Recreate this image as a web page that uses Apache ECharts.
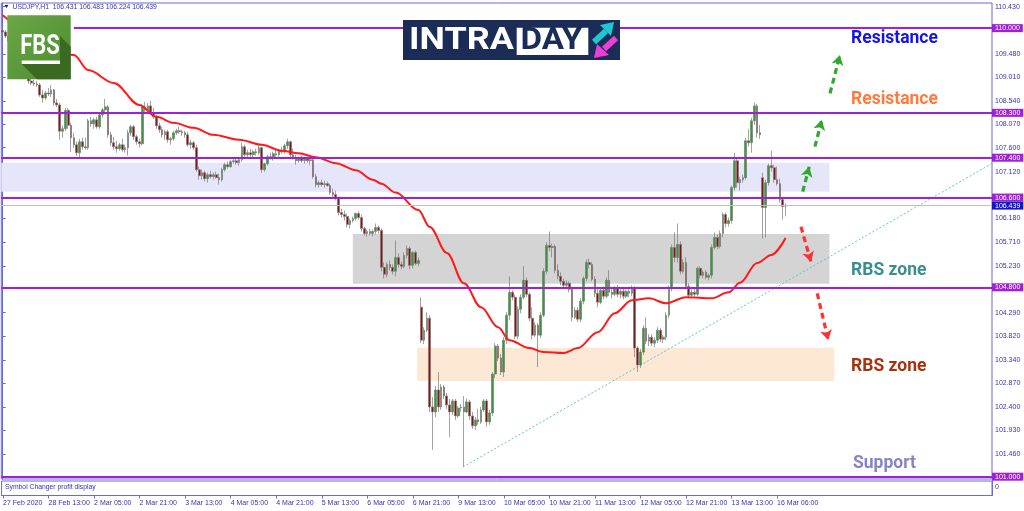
<!DOCTYPE html>
<html><head><meta charset="utf-8">
<script src="https://cdn.jsdelivr.net/npm/echarts@6/dist/echarts.min.js"></script>
<style>html,body{margin:0;padding:0;background:#fff}#c{width:1024px;height:511px}</style>
</head><body><div id="c"></div>
<script>
// ---------------- data ----------------
const symbolHeader = 'USDJPY,H1  106.431 106.483 106.224 106.439';
const xTickLabels = ['27 Feb 2020','28 Feb 13:00','2 Mar 05:00','2 Mar 21:00','3 Mar 13:00','4 Mar 05:00','4 Mar 21:00','5 Mar 13:00','6 Mar 05:00','6 Mar 21:00','9 Mar 13:00','10 Mar 05:00','10 Mar 21:00','11 Mar 13:00','12 Mar 05:00','12 Mar 21:00','13 Mar 13:00','16 Mar 06:00'];
const yTickValues = [110.43,109.48,109.01,108.54,108.07,107.60,107.12,106.18,105.71,105.23,104.29,103.82,103.34,102.87,102.40,101.93,101.46];
// hourly bars: [open, high, low, close]
const ohlc = [
[109.95,110.00,109.88,109.92],[109.92,109.96,109.80,109.84],[109.84,109.88,109.70,109.74],[109.74,109.80,109.62,109.66],
[109.66,109.70,109.50,109.55],[109.55,109.60,109.40,109.44],[109.44,109.50,109.30,109.36],[109.36,109.40,109.18,109.22],
[109.22,109.28,109.05,109.10],[109.10,109.12,108.88,108.94],[108.94,108.98,108.86,108.90],[108.90,108.96,108.84,108.88],
[108.88,108.94,108.82,108.86],[108.86,108.90,108.62,108.66],[108.66,108.76,108.50,108.60],[108.60,108.74,108.56,108.70],
[108.70,108.80,108.64,108.68],[108.68,108.86,108.62,108.76],[108.76,108.78,108.44,108.50],[108.50,108.58,108.42,108.46],
[108.46,108.50,107.76,107.93],[107.93,108.05,107.80,107.98],[107.98,108.40,107.94,108.35],[108.35,108.40,107.98,108.05],
[108.05,108.10,107.52,107.80],[107.80,107.90,107.60,107.66],[107.66,107.72,107.44,107.50],[107.50,107.78,107.38,107.72],
[107.72,107.80,107.56,107.62],[107.62,107.80,107.56,107.60],[107.60,108.18,107.56,108.14],[108.14,108.22,108.02,108.08],
[108.08,108.20,107.98,108.16],[108.16,108.22,107.98,108.02],[108.02,108.30,107.98,108.26],[108.26,108.40,108.20,108.36],
[108.36,108.58,108.30,108.42],[108.42,108.46,107.80,107.86],[107.86,107.92,107.64,107.70],[107.70,107.82,107.56,107.62],
[107.62,107.74,107.50,107.58],[107.58,107.70,107.54,107.66],[107.66,107.78,107.52,107.56],[107.56,107.66,107.50,107.60],
[107.60,107.96,107.44,107.90],[107.90,108.06,107.84,108.02],[108.02,108.06,107.76,107.82],[107.82,107.86,107.66,107.72],
[107.72,107.78,107.60,107.68],[107.68,108.48,107.64,108.42],[108.42,108.52,108.30,108.36],[108.36,108.50,108.28,108.44],
[108.44,108.54,108.26,108.30],[108.30,108.40,108.18,108.22],[108.22,108.26,107.98,108.04],[108.04,108.10,107.90,107.96],
[107.96,108.02,107.80,107.86],[107.86,107.96,107.76,107.92],[107.92,107.96,107.70,107.76],[107.76,107.82,107.66,107.78],
[107.78,107.94,107.74,107.90],[107.90,107.98,107.86,107.94],[107.94,108.02,107.88,107.92],[107.92,107.96,107.84,107.90],
[107.90,107.94,107.80,107.86],[107.86,107.92,107.62,107.66],[107.66,107.76,107.58,107.70],[107.70,107.74,107.56,107.60],
[107.60,107.66,107.12,107.16],[107.16,107.22,106.96,107.04],[107.04,107.16,106.96,107.10],[107.10,107.14,106.92,106.98],
[106.98,107.10,106.90,107.06],[107.06,107.14,106.98,107.02],[107.02,107.10,106.96,107.06],[107.06,107.12,106.98,107.00],
[107.00,107.08,106.86,106.96],[106.96,107.20,106.92,107.16],[107.16,107.30,107.12,107.26],[107.26,107.32,107.18,107.22],
[107.22,107.36,107.20,107.32],[107.32,107.40,107.28,107.34],[107.34,107.40,107.26,107.30],[107.30,107.40,107.24,107.36],
[107.36,107.70,107.32,107.62],[107.62,107.66,107.40,107.46],[107.46,107.56,107.40,107.50],[107.50,107.58,107.42,107.46],
[107.46,107.56,107.40,107.52],[107.52,107.58,107.44,107.50],[107.50,107.64,107.46,107.60],[107.60,107.62,107.10,107.16],
[107.16,107.30,107.12,107.28],[107.28,107.46,107.24,107.42],[107.42,107.50,107.36,107.40],[107.40,107.52,107.34,107.48],
[107.48,107.56,107.42,107.46],[107.46,107.58,107.40,107.54],[107.54,107.62,107.48,107.52],[107.52,107.68,107.48,107.64],
[107.64,107.78,107.58,107.72],[107.72,107.74,107.40,107.46],[107.46,107.58,107.36,107.40],[107.40,107.46,107.26,107.34],
[107.34,107.42,107.30,107.38],[107.38,107.44,107.30,107.34],[107.34,107.42,107.28,107.38],[107.38,107.42,107.30,107.34],
[107.34,107.40,107.26,107.36],[107.36,107.40,106.98,107.02],[107.02,107.08,106.80,106.86],[106.86,106.94,106.80,106.90],
[106.90,106.96,106.82,106.86],[106.86,106.94,106.80,106.88],[106.88,106.92,106.82,106.84],[106.84,106.88,106.66,106.70],
[106.70,106.78,106.60,106.66],[106.66,106.74,106.54,106.58],[106.58,106.62,106.24,106.30],[106.30,106.38,106.20,106.26],
[106.26,106.34,106.14,106.22],[106.22,106.28,106.00,106.06],[106.06,106.18,105.98,106.14],[106.14,106.22,106.10,106.18],
[106.18,106.30,106.14,106.28],[106.28,106.32,106.16,106.20],[106.20,106.26,105.92,105.98],[105.98,106.02,105.84,105.88],
[105.88,105.96,105.82,105.92],[105.92,105.98,105.84,105.88],[105.88,105.96,105.82,105.92],[105.92,106.08,105.86,106.00],
[106.00,106.04,105.88,105.94],[105.94,105.98,105.12,105.20],[105.20,105.30,104.98,105.06],[105.06,105.30,105.00,105.26],
[105.26,105.34,105.14,105.20],[105.20,105.26,105.06,105.12],[105.12,105.74,105.02,105.40],[105.40,105.48,105.20,105.26],
[105.26,105.32,105.16,105.22],[105.22,105.50,105.18,105.44],[105.44,105.64,105.38,105.58],[105.58,105.62,105.16,105.24],
[105.24,105.52,105.18,105.50],[105.50,105.54,105.24,105.28],[105.28,105.40,105.22,105.34],
[104.40,104.60,103.68,103.74],[103.74,104.00,103.66,103.94],[103.94,104.30,103.90,104.18],[104.18,104.24,102.30,102.40],
[102.40,102.60,101.54,102.30],[102.30,102.82,102.20,102.74],[102.74,103.10,102.30,102.40],[102.40,102.86,102.34,102.80],
[102.80,102.84,102.56,102.62],[102.62,102.68,102.36,102.44],[102.44,102.56,101.80,102.30],[102.30,102.56,102.24,102.52],
[102.52,102.56,102.14,102.22],[102.22,102.42,102.18,102.38],[102.38,102.46,102.30,102.40],[102.40,102.62,101.20,102.30],
[102.30,102.56,102.28,102.50],[102.50,102.54,102.14,102.22],[102.22,102.30,101.96,102.02],[102.02,102.20,101.94,102.14],
[102.14,102.36,102.04,102.10],[102.10,102.40,102.06,102.34],[102.34,102.56,102.30,102.52],[102.52,102.56,102.00,102.10],
[102.10,102.34,102.04,102.28],[102.28,103.10,102.22,103.06],[103.06,103.68,102.98,103.62],[103.62,103.66,103.32,103.38],
[103.38,103.46,103.04,103.10],[103.10,103.80,103.00,103.74],[103.74,104.30,103.66,104.24],[104.24,105.02,104.14,104.70],
[104.70,104.74,104.54,104.60],[104.60,104.66,103.76,103.82],[103.82,104.42,103.76,104.36],[104.36,104.66,104.28,104.60],
[104.60,105.22,104.56,104.94],[104.94,105.00,104.60,104.66],[104.66,104.70,104.12,104.18],[104.18,104.40,103.76,103.84],
[103.84,104.10,103.80,104.04],[104.04,104.08,103.20,103.84],[103.84,104.30,103.78,104.24],[104.24,105.18,104.20,105.12],
[105.12,105.70,105.06,105.64],[105.64,105.92,105.52,105.60],[105.60,105.68,105.40,105.62],[105.62,105.66,105.08,105.14],
[105.14,105.26,104.96,105.02],[105.02,105.10,104.84,104.92],[104.92,104.98,104.78,104.84],[104.84,104.94,104.76,104.88],
[104.88,104.92,104.70,104.76],[104.76,104.80,104.12,104.20],[104.20,104.40,104.16,104.34],[104.34,104.40,104.10,104.16],
[104.16,104.58,104.10,104.52],[104.52,105.02,104.46,104.98],[104.98,105.36,104.92,105.30],[105.30,105.38,105.18,105.26],
[105.26,105.30,104.92,104.96],[104.96,105.02,104.60,104.68],[104.68,104.80,104.40,104.50],[104.50,104.80,104.46,104.74],
[104.74,104.82,104.56,104.62],[104.62,105.00,104.58,104.94],[104.94,105.14,104.62,104.70],[104.70,104.80,104.58,104.66],
[104.66,104.82,104.62,104.78],[104.78,104.84,104.60,104.66],[104.66,104.76,104.58,104.72],[104.72,104.78,104.56,104.62],
[104.62,104.76,104.58,104.72],[104.72,104.80,104.60,104.68],[104.68,104.84,104.62,104.78],[104.78,104.82,103.40,103.58],
[103.58,103.62,103.10,103.24],[103.24,103.56,103.18,103.50],[103.50,104.04,103.44,103.98],[103.98,104.20,103.66,103.72],
[103.72,103.86,103.62,103.80],[103.80,103.86,103.62,103.68],[103.68,103.80,103.60,103.74],[103.74,104.00,103.68,103.94],
[103.94,103.98,103.70,103.76],[103.76,103.84,103.68,103.80],[103.80,104.30,103.74,104.24],[104.24,104.84,104.18,104.80],
[104.80,105.66,104.72,105.60],[105.60,105.90,105.30,105.40],[105.40,106.08,105.30,105.66],[105.66,105.72,105.06,105.12],
[105.12,105.36,105.08,105.30],[105.30,105.40,104.76,104.82],[104.82,104.88,104.58,104.64],[104.64,104.76,104.58,104.70],
[104.70,104.80,104.60,104.66],[104.66,105.22,104.62,105.18],[105.18,105.22,104.98,105.04],[105.04,105.14,104.98,105.10],
[105.10,105.14,104.96,105.00],[105.00,105.08,104.94,105.04],[105.04,105.66,104.98,105.60],[105.60,105.90,105.56,105.80],
[105.80,105.86,105.56,105.62],[105.62,105.94,105.58,105.88],[105.88,106.30,105.80,106.26],[106.26,106.30,106.00,106.08],
[106.08,106.20,106.02,106.14],[106.14,106.84,106.08,106.80],[106.80,107.50,106.74,107.34],[107.34,107.40,106.80,106.90],
[106.90,107.02,106.74,106.96],[106.96,107.06,106.90,107.00],[107.00,107.80,106.96,107.74],[107.74,107.98,107.62,107.70],
[107.70,108.20,107.50,108.14],[108.14,108.50,108.06,108.44],[108.44,108.48,107.80,107.90],[107.90,108.06,107.78,107.86],
[107.00,107.10,105.78,106.40],[106.40,106.96,105.80,106.90],[106.90,107.28,106.84,107.24],[107.24,107.54,107.12,107.20],
[107.20,107.26,106.90,106.96],[106.96,107.22,106.84,106.88],[106.88,106.98,106.50,106.56],[106.56,106.60,106.16,106.42],
[106.431,106.483,106.224,106.439]
];
// moving average: [bar index, value]
const maPoints = [[0,110.26],[25,109.46],[30,109.16],[39,108.90],[48,108.46],[54,108.22],[60,108.10],[67,108.00],[74,107.86],
[83,107.76],[91,107.66],[98,107.54],[104,107.49],[110,107.41],[117,107.29],[124,107.15],[130,106.96],[133,106.88],[138,106.70],
[146,106.35],[150,106.01],[156,105.49],[162,104.88],[168,104.40],[174,104.00],[178,103.74],[185,103.58],[190,103.50],[197,103.48],
[202,103.58],[209,103.90],[215,104.28],[221,104.54],[227,104.58],[233,104.48],[240,104.60],[249,104.58],[255,104.70],[259,104.89],
[265,105.29],[270,105.45],[275,105.79]];
const levels = [110.0, 108.3, 107.4, 106.6, 104.8, 101.0];
const currentPrice = 106.439;
const lavenderZone = [107.30, 106.718];
const grayZone = [105.87, 104.872];
const peachZone = [103.588, 102.92];
const trendline = [[161.7, 101.195], [347.5, 107.284]];
const greenArrows = [[[281.0,106.718],[283.3,107.219]],[[285.3,107.621],[287.7,108.156]],[[290.6,108.692],[294.1,109.461]]];
const redArrows = [[[280.4,106.015],[283.9,105.313]],[[286.1,104.679],[290.0,103.742]]];
const totalSlots = 348;

// ---------------- chart ----------------
const categories = Array.from({length: totalSlots}, (_, i) => String(i));
const frame = '#6a6ad8';
const axisText = '#3434b4';
const purple = '#a020d8';
const chart = echarts.init(document.getElementById('c'), null, {renderer: 'canvas'});

const levelLines = levels.map((v, k) => [
  {coord: [k === 0 ? 25 : -0.5, v], lineStyle: {color: purple, width: 2, type: 'solid'},
   label: {show: true, position: 'end', distance: 0, formatter: v.toFixed(3), backgroundColor: purple,
           color: '#fff', fontSize: 7, fontFamily: 'Liberation Sans', padding: [1, 3, 0, 3]}},
  {coord: [347.5, v]}
]);
levelLines.push([
  {coord: [-0.5, currentPrice], lineStyle: {color: '#c0c0c0', width: 1, type: 'solid'},
   label: {show: true, position: 'end', distance: 0, formatter: currentPrice.toFixed(3), backgroundColor: '#1414c8',
           color: '#fff', fontSize: 7, fontFamily: 'Liberation Sans', padding: [1, 3, 0, 3]}},
  {coord: [347.5, currentPrice]}
]);

const arrowLine = (pair, color) => [
  {coord: pair[0], lineStyle: {color: color, width: 3.2, type: [6, 4]}},
  {coord: pair[1]}
];

const Z = 100;
const option = {
  animation: false,
  backgroundColor: '#fff',
  grid: [
    {left: 1.3, right: 32, top: 3, bottom: 32, show: true, borderColor: frame, borderWidth: 1, backgroundColor: '#fff'},
    {left: 1.3, right: 32, top: 481, bottom: 15.5, show: true, borderColor: frame, borderWidth: 1}
  ],
  xAxis: [
    {type: 'category', gridIndex: 0, data: categories, boundaryGap: true, show: false},
    {type: 'value', gridIndex: 0, min: -0.5, max: totalSlots - 0.5, show: false},
    {type: 'category', gridIndex: 1, data: categories, boundaryGap: true,
     axisLine: {show: true, lineStyle: {color: frame}},
     axisTick: {show: true, alignWithLabel: true, length: 3, lineStyle: {color: frame},
                interval: (i) => i % 16 === 0 && i / 16 < xTickLabels.length},
     axisLabel: {show: true, align: 'left', margin: 4, color: axisText, fontSize: 7, fontFamily: 'Liberation Sans',
                 interval: (i) => i % 16 === 0 && i / 16 < xTickLabels.length,
                 formatter: (v, i) => xTickLabels[i / 16] || ''},
     splitLine: {show: false}}
  ],
  yAxis: [
    {type: 'value', gridIndex: 0, position: 'right', min: 100.954, max: 110.504,
     axisLine: {show: true, lineStyle: {color: frame}},
     axisTick: {show: true, length: 3, customValues: yTickValues, lineStyle: {color: frame}},
     axisLabel: {show: true, customValues: yTickValues, formatter: (v) => v.toFixed(3), color: axisText,
                 fontSize: 7, fontFamily: 'Liberation Sans', margin: 3},
     splitLine: {show: false}},
    {type: 'value', gridIndex: 1, position: 'right', min: 0, max: 1,
     axisLine: {show: true, lineStyle: {color: frame}},
     axisTick: {show: false},
     axisLabel: {show: true, customValues: [1, 0.55], formatter: () => '0', color: axisText, fontSize: 7,
                 fontFamily: 'Liberation Sans', margin: 3},
     splitLine: {show: false}}
  ],
  series: [
    {type: 'line', name: 'zones', xAxisIndex: 1, yAxisIndex: 0, data: [], silent: true, z: 1, clip: false,
     markArea: {silent: true, data: [
       [{coord: [-0.5, lavenderZone[0]], itemStyle: {color: '#e6e6fa'}}, {coord: [290.4, lavenderZone[1]]}],
       [{coord: [123.0, grayZone[0]], itemStyle: {color: '#d4d4d4'}}, {coord: [290.4, grayZone[1]]}],
       [{coord: [145.6, peachZone[0]], itemStyle: {color: '#fde8d6'}}, {coord: [292.1, peachZone[1]]}]
     ]}},
    {type: 'line', name: 'levels', xAxisIndex: 1, yAxisIndex: 0, data: [], silent: true, z: 2, clip: false,
     markLine: {silent: true, symbol: ['none', 'none'], animation: false, data: levelLines}},
    {type: 'line', name: 'trend', xAxisIndex: 1, yAxisIndex: 0, data: trendline, symbol: 'none', silent: true, z: 2,
     lineStyle: {color: '#5ec8c8', width: 1, type: [2, 2]}},
    {type: 'candlestick', name: 'USDJPY', xAxisIndex: 0, yAxisIndex: 0, z: 3, barWidth: 2.2,
     data: ohlc.map(r => [r[0], r[3], r[2], r[1]]),
     itemStyle: {color: '#2fa02f', color0: '#8c1010', borderColor: '#7a7a7a', borderColor0: '#7a7a7a', borderWidth: 0.7}},
    {type: 'line', name: 'MA', xAxisIndex: 1, yAxisIndex: 0, data: maPoints, symbol: 'none', smooth: 0.35,
     smoothMonotone: 'x', z: 4, lineStyle: {color: '#ff1a1a', width: 2}},
    {type: 'line', name: 'arrows', xAxisIndex: 1, yAxisIndex: 0, data: [], silent: true, z: 5, clip: false,
     markLine: {silent: true, symbol: ['none', 'arrow'], symbolSize: [9, 10], label: {show: false}, animation: false,
       data: greenArrows.map(p => arrowLine(p, '#2ea82e')).concat(redArrows.map(p => arrowLine(p, '#ff3030')))}}
  ],
  graphic: {
    elements: [
    // header
    {type: 'polygon', z: Z, shape: {points: [[4.5, 5], [8.5, 5], [6.5, 8]]}, style: {fill: '#1e1e90'}},
    {type: 'text', z: Z, x: 12.5, y: 7.5, style: {text: symbolHeader, fill: axisText, font: '6.8px "Liberation Sans"', textVerticalAlign: 'middle'}},
    {type: 'text', z: Z, x: 5, y: 487.5, style: {text: 'Symbol Changer profit display', fill: axisText, font: '6.8px "Liberation Sans"', textVerticalAlign: 'middle'}},
    // FBS logo
    {type: 'rect', z: Z, shape: {x: 7.3, y: 15.3, width: 63.4, height: 64},
     style: {fill: new echarts.graphic.LinearGradient(0, 0, 1, 1, [{offset: 0, color: '#6aa847'}, {offset: 1, color: '#4d8a2e'}])}},
    {type: 'polygon', z: Z + 1, shape: {points: [[60, 36], [70.7, 46.7], [70.7, 79.3], [37, 79.3], [21.7, 64], [60, 64]]}, style: {fill: '#3a6a20'}},
    {type: 'text', z: Z + 2, x: 20.3, y: 46.5, scaleX: 0.78, style: {text: 'FBS', fill: '#fff', font: 'bold 28px Roboto', textVerticalAlign: 'middle'}},
    {type: 'rect', z: Z + 2, shape: {x: 21.7, y: 60.5, width: 38.3, height: 3.5}, style: {fill: '#fff'}},
    // INTRADAY logo
    {type: 'rect', z: Z, shape: {x: 403, y: 20, width: 217, height: 40}, style: {fill: '#1b2d57'}},
    {type: 'rect', z: Z + 1, shape: {x: 516.7, y: 27.7, width: 71.6, height: 27.3}, style: {fill: '#fff'}},
    {type: 'text', z: Z + 2, x: 409, y: 41.5, scaleX: 1.16, style: {text: 'INTRA', fill: '#fff', font: 'bold 31px Roboto', textVerticalAlign: 'middle'}},
    {type: 'text', z: Z + 2, x: 520.5, y: 41.5, scaleX: 1.07, style: {text: 'DAY', fill: '#1b2d57', font: 'bold 31px Roboto', textVerticalAlign: 'middle'}},
    {type: 'line', z: Z + 2, shape: {x1: 594, y1: 42, x2: 606, y2: 31}, style: {stroke: '#1ec8d0', lineWidth: 6}},
    {type: 'polygon', z: Z + 2, shape: {points: [[600, 25], [614, 22], [611, 36]]}, style: {fill: '#1ec8d0'}},
    {type: 'line', z: Z + 2, shape: {x1: 616, y1: 38, x2: 604, y2: 49}, style: {stroke: '#ec3fd8', lineWidth: 6}},
    {type: 'polygon', z: Z + 2, shape: {points: [[597, 44], [594, 58], [609, 55]]}, style: {fill: '#ec3fd8'}},
    // annotations
    {type: 'text', x: 851, y: 38.5, z: Z, style: {text: 'Resistance', fill: '#1414e6', font: 'bold 17.5px Roboto', textVerticalAlign: 'middle'}},
    {type: 'text', x: 851, y: 99.3, z: Z, style: {text: 'Resistance', fill: '#ff7a3c', font: 'bold 17.5px Roboto', textVerticalAlign: 'middle'}},
    {type: 'text', x: 851, y: 271, z: Z, style: {text: 'RBS zone', fill: '#3a8e8e', font: 'bold 17.5px Roboto', textVerticalAlign: 'middle'}},
    {type: 'text', x: 851, y: 366.7, z: Z, style: {text: 'RBS zone', fill: '#a3340e', font: 'bold 17.5px Roboto', textVerticalAlign: 'middle'}},
    {type: 'text', x: 853, y: 463.5, z: Z, style: {text: 'Support', fill: '#8585c6', font: 'bold 17.5px Roboto', textVerticalAlign: 'middle'}}
    ]
  }
};
chart.setOption(option);
</script>
</body></html>
